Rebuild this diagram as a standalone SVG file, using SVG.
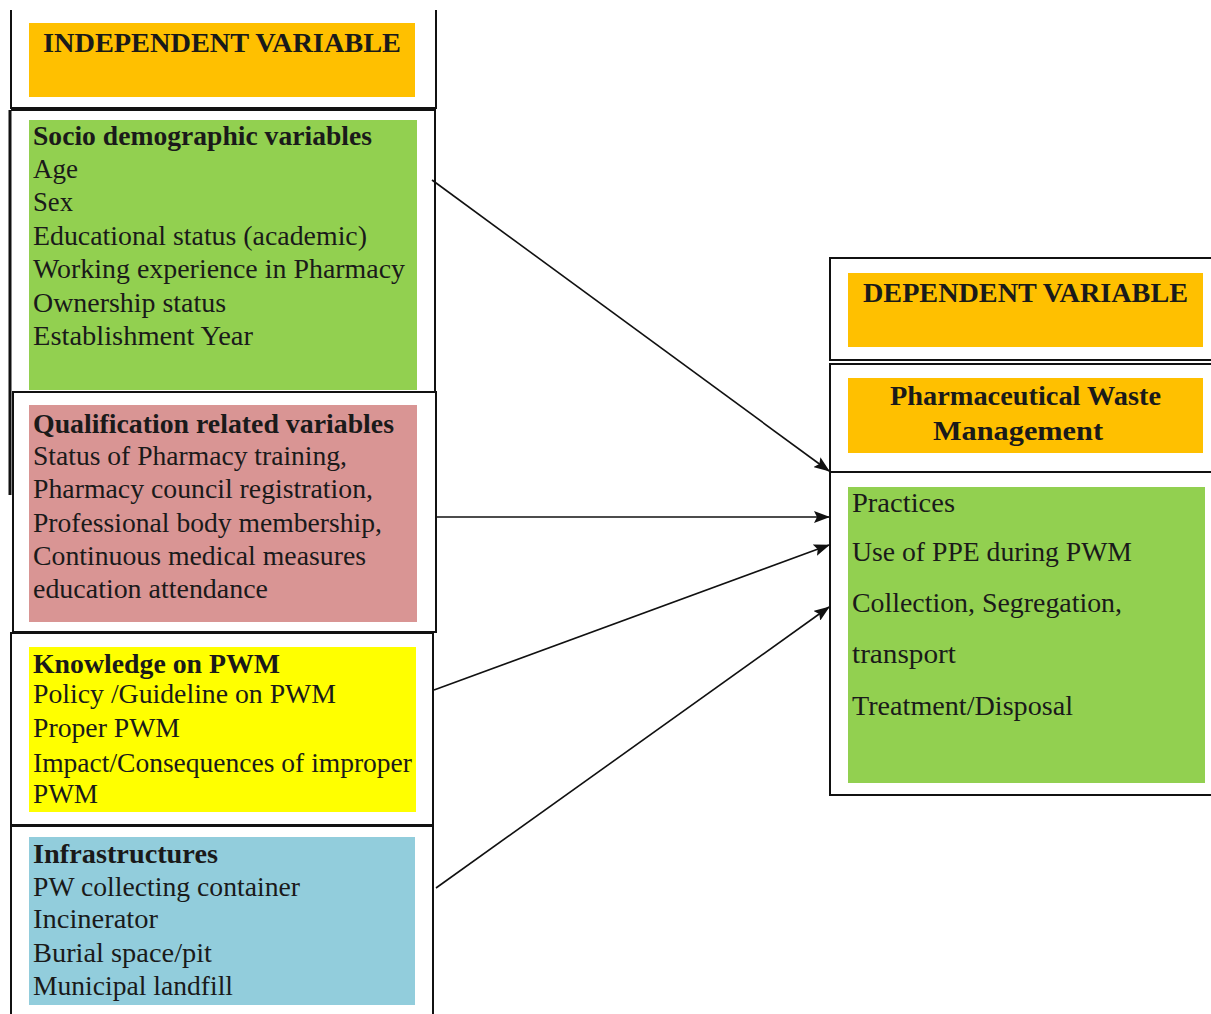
<svg xmlns="http://www.w3.org/2000/svg" width="1211" height="1014" viewBox="0 0 1211 1014">
<style>
.b{fill:none;stroke:#111;stroke-width:2}
.t{font-family:"Liberation Serif","Times New Roman",serif;font-size:27px;fill:#1a1a1a}
.h{font-weight:bold}
.c{text-anchor:middle}
.e{stroke:#111;stroke-width:1.6;fill:none}
</style>
<defs>
<marker id="ah" viewBox="0 0 16 12" refX="15" refY="6" markerWidth="16" markerHeight="12" markerUnits="userSpaceOnUse" orient="auto">
<path d="M0,0 L16,6 L0,12 L3,6 z" fill="#111"/>
</marker>
</defs>
<rect width="1211" height="1014" fill="#fff"/>

<g id="independent-header">
<path class="b" d="M11,10 V108 H436 V10"/>
<rect x="29" y="23" width="386" height="74" fill="#FFC000"/>
<text class="t h c" x="222" y="52" textLength="358" lengthAdjust="spacingAndGlyphs">INDEPENDENT VARIABLE</text>
</g>

<g id="sociodemographic">
<path class="b" d="M11,110 H435 V392"/>
<path d="M10,110 V495" stroke="#111" stroke-width="3"/>
<rect x="29" y="120" width="388" height="270" fill="#92D050"/>
<text class="t h" x="33" y="145" textLength="339" lengthAdjust="spacingAndGlyphs">Socio demographic variables</text>
<text class="t" x="33" y="178" textLength="45" lengthAdjust="spacingAndGlyphs">Age</text>
<text class="t" x="33" y="211" textLength="40" lengthAdjust="spacingAndGlyphs">Sex</text>
<text class="t" x="33" y="245" textLength="334" lengthAdjust="spacingAndGlyphs">Educational status (academic)</text>
<text class="t" x="33" y="278" textLength="372" lengthAdjust="spacingAndGlyphs">Working experience in Pharmacy</text>
<text class="t" x="33" y="312" textLength="193" lengthAdjust="spacingAndGlyphs">Ownership status</text>
<text class="t" x="33" y="345" textLength="220" lengthAdjust="spacingAndGlyphs">Establishment Year</text>
</g>

<g id="qualification">
<rect class="b" x="13" y="392" width="423" height="240"/>
<rect x="29" y="405" width="388" height="217" fill="#D99594"/>
<text class="t h" x="33" y="433" textLength="361" lengthAdjust="spacingAndGlyphs">Qualification related variables</text>
<text class="t" x="33" y="465" textLength="314" lengthAdjust="spacingAndGlyphs">Status of Pharmacy training,</text>
<text class="t" x="33" y="498" textLength="340" lengthAdjust="spacingAndGlyphs">Pharmacy council registration,</text>
<text class="t" x="33" y="532" textLength="349" lengthAdjust="spacingAndGlyphs">Professional body membership,</text>
<text class="t" x="33" y="565" textLength="333" lengthAdjust="spacingAndGlyphs">Continuous medical measures</text>
<text class="t" x="33" y="598" textLength="235" lengthAdjust="spacingAndGlyphs">education attendance</text>
</g>

<g id="knowledge">
<rect class="b" x="11" y="633" width="422" height="192"/>
<rect x="29" y="647" width="387" height="165" fill="#FFFF00"/>
<text class="t h" x="33" y="673" textLength="247" lengthAdjust="spacingAndGlyphs">Knowledge on PWM</text>
<text class="t" x="33" y="703" textLength="303" lengthAdjust="spacingAndGlyphs">Policy /Guideline on PWM</text>
<text class="t" x="33" y="737" textLength="147" lengthAdjust="spacingAndGlyphs">Proper PWM</text>
<text class="t" x="33" y="772" textLength="379" lengthAdjust="spacingAndGlyphs">Impact/Consequences of improper</text>
<text class="t" x="33" y="803" textLength="65" lengthAdjust="spacingAndGlyphs">PWM</text>
</g>

<g id="infrastructures">
<path class="b" d="M11,1016 V826 H433 V1016"/>
<rect x="29" y="837" width="386" height="168" fill="#92CDDC"/>
<text class="t h" x="33" y="863" textLength="185" lengthAdjust="spacingAndGlyphs">Infrastructures</text>
<text class="t" x="33" y="896" textLength="267" lengthAdjust="spacingAndGlyphs">PW collecting container</text>
<text class="t" x="33" y="928" textLength="125" lengthAdjust="spacingAndGlyphs">Incinerator</text>
<text class="t" x="33" y="962" textLength="179" lengthAdjust="spacingAndGlyphs">Burial space/pit</text>
<text class="t" x="33" y="995" textLength="200" lengthAdjust="spacingAndGlyphs">Municipal landfill</text>
</g>

<g id="dependent-header">
<rect class="b" x="830" y="258" width="384" height="102"/>
<rect x="848" y="273" width="355" height="74" fill="#FFC000"/>
<text class="t h c" x="1025.5" y="302" textLength="325" lengthAdjust="spacingAndGlyphs">DEPENDENT VARIABLE</text>
</g>

<g id="pwm">
<rect class="b" x="830" y="364" width="384" height="108"/>
<rect x="848" y="378" width="355" height="75" fill="#FFC000"/>
<text class="t h c" x="1025.5" y="405" textLength="271" lengthAdjust="spacingAndGlyphs">Pharmaceutical Waste</text>
<text class="t h c" x="1018" y="440" textLength="170" lengthAdjust="spacingAndGlyphs">Management</text>
</g>

<g id="practices">
<rect class="b" x="830" y="472" width="384" height="323"/>
<rect x="848" y="487" width="357" height="296" fill="#92D050"/>
<text class="t" x="852" y="512" textLength="103" lengthAdjust="spacingAndGlyphs">Practices</text>
<text class="t" x="852" y="561" textLength="280" lengthAdjust="spacingAndGlyphs">Use of PPE during PWM</text>
<text class="t" x="852" y="612" textLength="270" lengthAdjust="spacingAndGlyphs">Collection, Segregation,</text>
<text class="t" x="852" y="663" textLength="104" lengthAdjust="spacingAndGlyphs">transport</text>
<text class="t" x="852" y="715" textLength="221" lengthAdjust="spacingAndGlyphs">Treatment/Disposal</text>
</g>

<g id="connectors">
<line class="e" x1="432" y1="180" x2="829" y2="471" marker-end="url(#ah)"/>
<line class="e" x1="436" y1="517" x2="829" y2="517" marker-end="url(#ah)"/>
<line class="e" x1="434" y1="690" x2="829" y2="545" marker-end="url(#ah)"/>
<line class="e" x1="436" y1="888" x2="829" y2="607" marker-end="url(#ah)"/>
</g>
</svg>
